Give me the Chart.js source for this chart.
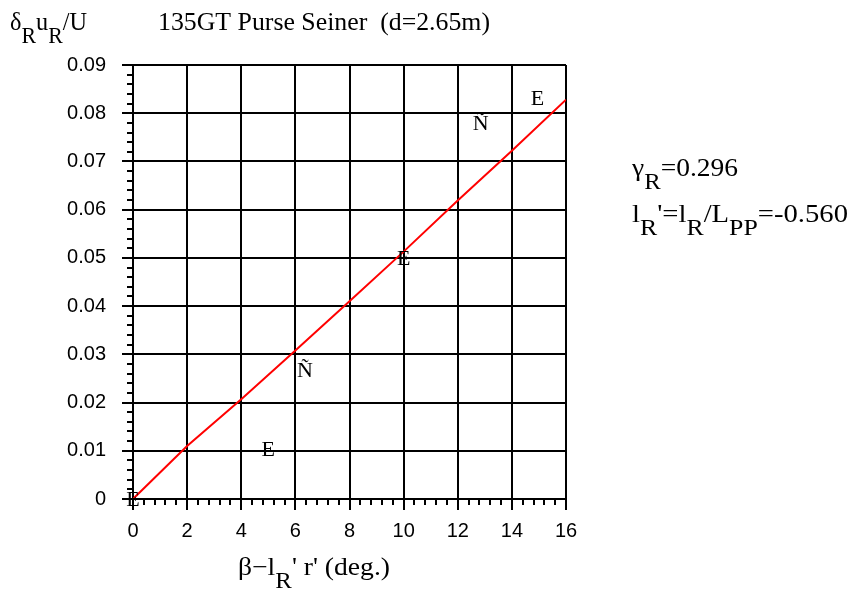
<!DOCTYPE html>
<html>
<head>
<meta charset="utf-8">
<script src="https://cdn.jsdelivr.net/npm/chart.js@4/dist/chart.umd.min.js"></script>
<style>
  html, body { margin: 0; padding: 0; background: #fff; }
  #wrap { width: 856px; height: 591px; }
</style>
</head>
<body>
<div id="wrap"><canvas id="c" width="856" height="591"></canvas></div>
<script>
// Fitted rudder-inflow line: x = beta - lR' r' (deg), y = deltaR uR / U
const lineX = [0, 2, 4, 6, 8, 10, 12, 14, 16];
const lineY = [0, 0.0110, 0.0207, 0.0308, 0.0410, 0.0513, 0.0619, 0.0722, 0.0828];

// Measured points, shown as symbol glyphs
const markX = [0, 5.0, 6.35, 10.0, 12.85, 14.95];
const markY = [0, 0.0105, 0.0268, 0.0500, 0.0781, 0.0832];
const markGlyph = ['E', 'E', 'Ñ', 'E', 'Ñ', 'E'];

// Axis ranges and tick steps
const xTicks = [0, 2, 4, 6, 8, 10, 12, 14, 16];
const yTicks = [0, 0.01, 0.02, 0.03, 0.04, 0.05, 0.06, 0.07, 0.08, 0.09];
const xMinorStep = 0.4;
const yMinorStep = 0.002;

const SERIF = "'Liberation Serif', 'Times New Roman', serif";
const SANS = "'Liberation Sans', Arial, sans-serif";

// Draws a run of text pieces, some of them subscripts; optionally
// stretched horizontally so the whole run spans a given width
function drawRich(ctx, x, y, parts, size, width) {
  const subSize = size * 0.9;
  ctx.save();
  ctx.fillStyle = '#000';
  ctx.textBaseline = 'alphabetic';
  ctx.textAlign = 'left';
  let natural = 0;
  for (const p of parts) {
    ctx.font = (p.sub ? subSize : size) + 'px ' + SERIF;
    natural += ctx.measureText(p.t).width;
  }
  const sx = width ? width / natural : 1;
  ctx.translate(x, 0);
  ctx.scale(sx, 1);
  let cx = 0;
  for (const p of parts) {
    ctx.font = (p.sub ? subSize : size) + 'px ' + SERIF;
    ctx.fillText(p.t, cx, p.sub ? y + size * 0.5 : y);
    cx += ctx.measureText(p.t).width;
  }
  ctx.restore();
}

const textPlugin = {
  id: 'texts',
  afterDraw(chart) {
    const ctx = chart.ctx;
    drawRich(ctx, 10, 30, [{t: 'δ'}, {t: 'R', sub: true}, {t: 'u'}, {t: 'R', sub: true}, {t: '/U'}], 25, 77);
    drawRich(ctx, 158, 30, [{t: '135GT Purse Seiner  (d=2.65m)'}], 25, 332);
    drawRich(ctx, 632, 176, [{t: 'γ'}, {t: 'R', sub: true}, {t: '=0.296'}], 25, 106);
    drawRich(ctx, 632, 222, [{t: 'l'}, {t: 'R', sub: true}, {t: "'=l"}, {t: 'R', sub: true}, {t: '/L'}, {t: 'PP', sub: true}, {t: '=-0.560'}], 25, 216);
    drawRich(ctx, 238, 575, [{t: 'β−l'}, {t: 'R', sub: true}, {t: "' r' (deg.)"}], 25, 152);
  }
};

// Major and minor tick marks on the outside of both axes
const tickPlugin = {
  id: 'axisTicks',
  afterDraw(chart) {
    const ctx = chart.ctx;
    const xs = chart.scales.x, ys = chart.scales.y;
    const a = chart.chartArea;
    ctx.save();
    ctx.strokeStyle = '#000';
    ctx.lineWidth = 2;
    ctx.beginPath();
    const nx = Math.round((xs.max - xs.min) / xMinorStep);
    for (let i = 0; i <= nx; i++) {
      const v = xs.min + i * xMinorStep;
      const px = Math.round(xs.getPixelForValue(v));
      const len = (i % 5 === 0) ? 11 : 6;
      ctx.moveTo(px, a.bottom);
      ctx.lineTo(px, a.bottom + len);
    }
    const ny = Math.round((ys.max - ys.min) / yMinorStep);
    for (let i = 0; i <= ny; i++) {
      const v = ys.min + i * yMinorStep;
      const py = Math.round(ys.getPixelForValue(v));
      const len = (i % 5 === 0) ? 11 : 6;
      ctx.moveTo(a.left, py);
      ctx.lineTo(a.left - len, py);
    }
    ctx.stroke();
    ctx.restore();
  }
};

// Glyph markers placed at the data positions of the second dataset
const glyphPlugin = {
  id: 'glyphs',
  afterDatasetsDraw(chart) {
    const ctx = chart.ctx;
    const meta = chart.getDatasetMeta(1);
    const size = 22;
    ctx.save();
    ctx.fillStyle = '#000';
    ctx.font = size + 'px ' + SERIF;
    ctx.textAlign = 'center';
    ctx.textBaseline = 'alphabetic';
    meta.data.forEach((el, i) => {
      ctx.fillText(markGlyph[i], el.x, el.y + size * 0.66 / 2);
    });
    ctx.restore();
  }
};

new Chart(document.getElementById('c'), {
  type: 'scatter',
  data: {
    datasets: [
      {
        data: lineX.map((x, i) => ({x, y: lineY[i]})),
        showLine: true,
        borderColor: '#ff0000',
        borderWidth: 2,
        pointRadius: 0,
        fill: false,
        tension: 0
      },
      {
        data: markX.map((x, i) => ({x, y: markY[i]})),
        showLine: false,
        pointRadius: 0,
        pointHoverRadius: 0
      }
    ]
  },
  options: {
    responsive: false,
    animation: false,
    devicePixelRatio: 1,
    layout: { padding: { top: 65, right: 290, left: 0, bottom: 0 } },
    plugins: { legend: { display: false }, tooltip: { enabled: false }, title: { display: false } },
    scales: {
      x: {
        type: 'linear',
        min: xTicks[0],
        max: xTicks[xTicks.length - 1],
        afterBuildTicks: s => { s.ticks = xTicks.map(v => ({value: v})); },
        afterFit: s => { s.height = 92; },
        ticks: {
          color: '#000',
          font: { family: SANS, size: 20 },
          padding: 20,
          maxRotation: 0,
          callback: v => String(v)
        },
        grid: { color: '#000', lineWidth: 2, drawTicks: false },
        border: { color: '#000', width: 2 }
      },
      y: {
        type: 'linear',
        min: yTicks[0],
        max: yTicks[yTicks.length - 1],
        afterBuildTicks: s => { s.ticks = yTicks.map(v => ({value: v})); },
        afterFit: s => { s.width = 133; },
        ticks: {
          color: '#000',
          font: { family: SANS, size: 20 },
          padding: 27,
          callback: v => (v === 0 ? '0' : Number(v).toFixed(2))
        },
        grid: { color: '#000', lineWidth: 2, drawTicks: false },
        border: { color: '#000', width: 2 }
      }
    }
  },
  plugins: [tickPlugin, glyphPlugin, textPlugin]
});
</script>
</body>
</html>
